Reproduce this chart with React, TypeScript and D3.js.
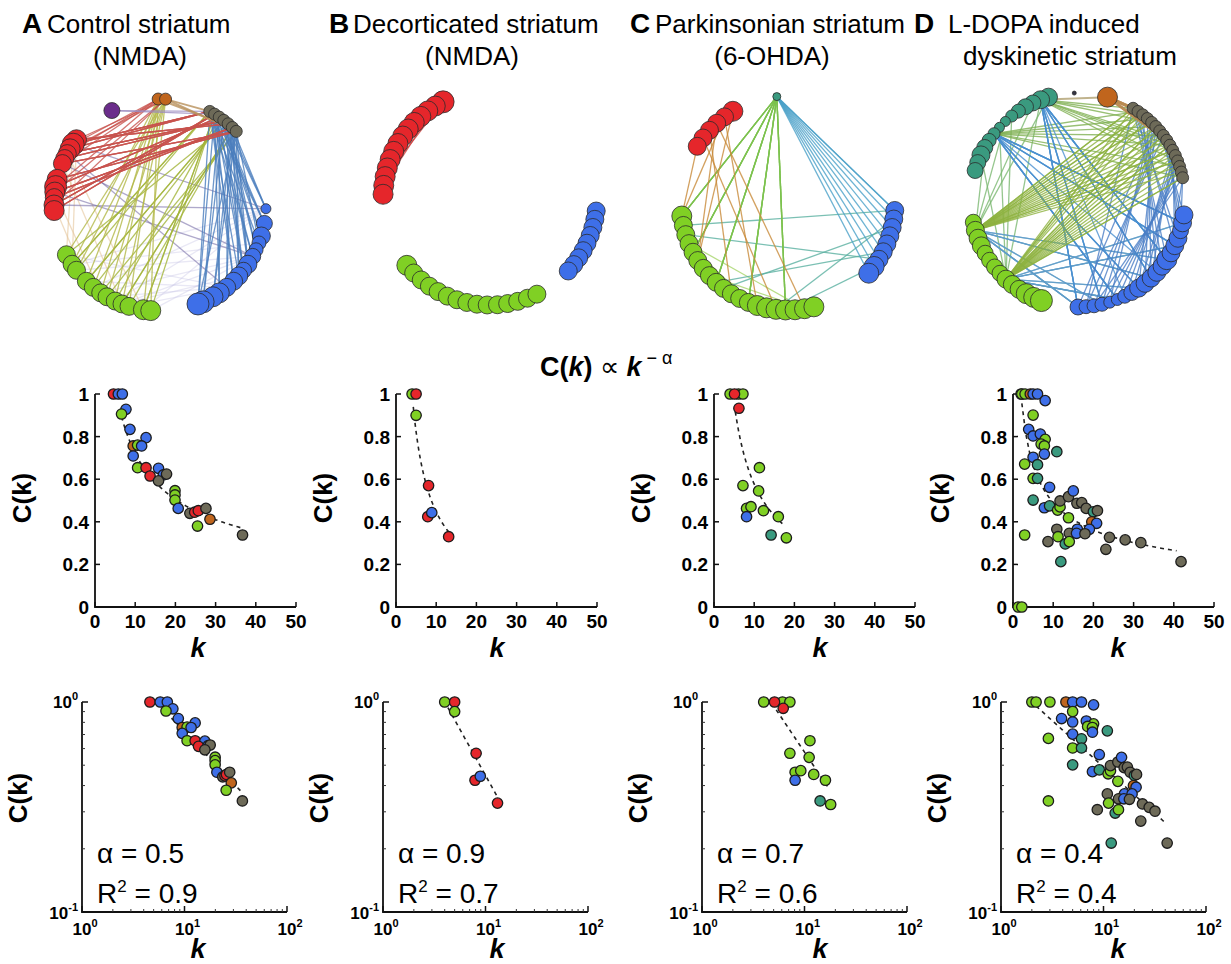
import React from 'react';
import * as d3 from 'd3';

const FONT = "Arial, 'Liberation Sans', Helvetica, sans-serif";

const COL: Record<string, string> = {
  red: '#e5262b', blue: '#3e6fe8', green: '#80d024', gray: '#6d6a58',
  brown: '#c0651d', teal: '#3a9a7f', purple: '#6b2d8b', dark: '#333344',
};

// ---------- scatter data: [k, C(k), group] ----------
type Pt = [number, number, string];
const ptsA: Pt[] = [
  [4.6, 1, 'red'], [5.8, 1, 'blue'], [6.8, 1, 'blue'], [7.7, 0.928, 'blue'], [6.6, 0.906, 'green'],
  [8.7, 0.834, 'blue'], [12.7, 0.795, 'blue'], [9.5, 0.756, 'brown'], [10.6, 0.76, 'green'], [11.6, 0.756, 'blue'],
  [9.5, 0.709, 'blue'], [10.6, 0.654, 'green'], [12.7, 0.654, 'red'], [15.8, 0.651, 'blue'], [13.7, 0.615, 'red'],
  [17.0, 0.62, 'blue'], [17.8, 0.624, 'gray'], [15.8, 0.592, 'gray'], [19.9, 0.546, 'green'], [19.9, 0.526, 'green'],
  [19.9, 0.502, 'green'], [20.7, 0.463, 'blue'], [23.6, 0.44, 'gray'], [24.8, 0.445, 'red'], [25.7, 0.452, 'red'],
  [27.6, 0.463, 'gray'], [28.6, 0.412, 'brown'], [25.5, 0.38, 'green'], [36.7, 0.338, 'gray'],
];
const ptsB: Pt[] = [
  [4, 1, 'green'], [5, 1, 'red'], [5, 0.9, 'green'], [8.1, 0.57, 'red'], [7.9, 0.424, 'red'],
  [8.9, 0.443, 'blue'], [13.1, 0.33, 'red'],
];
const ptsC: Pt[] = [
  [4.0, 1, 'green'], [6.1, 1, 'green'], [7.2, 1, 'green'], [5.1, 1, 'red'], [6.2, 0.933, 'red'],
  [11.3, 0.654, 'green'], [7.2, 0.57, 'green'], [11.1, 0.545, 'green'], [8.1, 0.463, 'green'], [9.2, 0.471, 'green'],
  [8.1, 0.424, 'blue'], [12.3, 0.452, 'green'], [16.0, 0.424, 'green'], [14.2, 0.338, 'teal'], [18.0, 0.325, 'green'],
];
const ptsD: Pt[] = [
  [2.0, 1, 'green'], [2.2, 1, 'green'], [3.0, 1, 'green'], [4.3, 1, 'brown'], [5.0, 1, 'blue'], [6.1, 1, 'blue'],
  [8.0, 0.969, 'blue'], [5.0, 0.901, 'green'], [3.9, 0.834, 'blue'], [5.0, 0.803, 'blue'], [6.8, 0.812, 'blue'],
  [8.0, 0.787, 'green'], [7.0, 0.765, 'green'], [7.8, 0.756, 'green'], [7.8, 0.718, 'blue'], [10.9, 0.729, 'teal'],
  [5.0, 0.703, 'blue'], [2.9, 0.671, 'green'], [6.1, 0.668, 'teal'], [5.0, 0.604, 'green'], [6.1, 0.604, 'teal'],
  [9.1, 0.562, 'blue'], [5.0, 0.502, 'teal'], [7.8, 0.466, 'blue'], [9.1, 0.475, 'teal'], [11.1, 0.455, 'green'],
  [11.7, 0.47, 'green'], [11.7, 0.498, 'gray'], [13.8, 0.518, 'gray'], [15.0, 0.545, 'blue'], [15.9, 0.487, 'gray'],
  [17.1, 0.49, 'gray'], [18.2, 0.463, 'gray'], [20.0, 0.447, 'teal'], [21.0, 0.452, 'gray'], [13.8, 0.419, 'green'],
  [19.6, 0.40, 'brown'], [20.8, 0.393, 'blue'], [10.9, 0.365, 'gray'], [16.0, 0.365, 'blue'], [19.0, 0.365, 'blue'],
  [14.0, 0.346, 'gray'], [15.8, 0.346, 'blue'], [17.9, 0.344, 'gray'], [11.2, 0.33, 'green'], [8.7, 0.307, 'gray'],
  [13.0, 0.296, 'teal'], [14.0, 0.307, 'green'], [24.0, 0.327, 'gray'], [27.9, 0.315, 'gray'], [31.8, 0.302, 'gray'],
  [23.1, 0.271, 'gray'], [11.9, 0.213, 'teal'], [41.8, 0.213, 'gray'], [2.9, 0.338, 'green'], [1.3, 0, 'green'],
  [2.2, 0, 'green'],
];

// power-law fits C = a * k^-alpha, drawn between k0 and k1
const fitA = { a: 2.356, alpha: 0.514, k0: 6.6, k1: 37 };
const fitB = { a: 3.39, alpha: 0.88, k0: 4.3, k1: 13.1 };
const fitC = { a: 3.10, alpha: 0.73, k0: 5.3, k1: 17.4 };
const fitD = { a: 1.354, alpha: 0.441, k0: 2.2, k1: 40.7 };

const alphaLabels = ['0.5', '0.9', '0.7', '0.4'];
const r2Labels = ['0.9', '0.7', '0.6', '0.4'];
const linXTicks = [0, 10, 20, 30, 40, 50];
const linYTicks = [0, 0.2, 0.4, 0.6, 0.8, 1];

// ---------- network data ----------
const span = (a: number, b: number, n: number) => d3.range(n).map(i => a + (b - a) * i / (n - 1));
type Cluster = { id: string; angles: number[]; sizes: number[] };
type EdgeGroup = { a: string; b: string; n: number; color: string; o?: number; w?: number };

const netA: Cluster[] = [
  { id: 'red', angles: [308, 305, 302, 299, 296, 293, 284, 280, 277, 274, 270, 267], sizes: [10, 11, 10, 9, 9, 9, 10, 11, 10, 9, 10, 10] },
  { id: 'green', angles: [242, 236, 232, 224, 219, 214, 210, 205, 201, 197, 189, 185], sizes: [9, 9, 9, 9, 9, 9, 9, 9, 9, 9, 10, 10] },
  { id: 'blue', angles: [92, 100, 107, 111, 115, 119, 124, 128, 132, 136, 141, 146, 150, 156, 159], sizes: [5, 8, 9, 7, 7, 8, 9, 8, 9, 9, 9, 10, 10, 11, 11] },
  { id: 'gray', angles: [28, 31, 34, 37, 40, 43, 46], sizes: [6, 6, 6, 6, 6, 6, 6] },
  { id: 'brown', angles: [359, 3], sizes: [6, 6] },
  { id: 'purple', angles: [333], sizes: [8] },
];
const edgesA: EdgeGroup[] = [
  { a: 'green', b: 'blue', n: 14, color: '#c9c6e6', o: 0.4 },
  { a: 'blue', b: 'blue', n: 6, color: '#c9c6e6', o: 0.4 },
  { a: 'red', b: 'green', n: 6, color: '#e4c49a', o: 0.6 },
  { a: 'red', b: 'blue', n: 5, color: '#7a70a8', o: 0.6 },
  { a: 'green', b: 'gray', n: 16, color: '#a3b43a' },
  { a: 'green', b: 'brown', n: 12, color: '#b3b847' },
  { a: 'blue', b: 'gray', n: 36, color: '#4a7dbd' },
  { a: 'red', b: 'gray', n: 40, color: '#c8524e' },
  { a: 'red', b: 'brown', n: 8, color: '#c8524e' },
  { a: 'purple', b: 'gray', n: 2, color: '#9c8cc0' },
  { a: 'brown', b: 'gray', n: 3, color: '#b8905a', w: 2 },
];

const netB: Cluster[] = [
  { id: 'red', angles: span(334, 272, 14), sizes: [11, 10, 10, 10, 10, 10, 10, 10, 10, 10, 10, 10, 10, 10] },
  { id: 'blue', angles: span(97, 133, 9), sizes: [9, 9, 9, 9, 9, 9, 9, 9, 9] },
  { id: 'green', angles: span(231, 154, 15), sizes: [10, 9, 9, 9, 9, 9, 9, 9, 9, 9, 9, 9, 9, 9, 9] },
];
const edgesB: EdgeGroup[] = [
  { a: 'red', b: 'red', n: 22, color: '#d0403f' },
  { a: 'green', b: 'green', n: 14, color: '#8fcf3f' },
];

const netC: Cluster[] = [
  { id: 'teal', angles: [354], sizes: [4] },
  { id: 'red', angles: span(329, 302, 6), sizes: [10, 9, 9, 9, 9, 9] },
  { id: 'green', angles: span(263, 166, 20), sizes: [10, 9, 9, 9, 9, 9, 9, 9, 9, 9, 9, 9, 9, 10, 10, 10, 10, 10, 10, 10] },
  { id: 'blue', angles: span(94, 131, 9), sizes: [9, 9, 9, 9, 9, 9, 9, 10, 10] },
];
const edgesC: EdgeGroup[] = [
  { a: 'green', b: 'green', n: 10, color: '#a6d46a' },
  { a: 'green', b: 'blue', n: 6, color: '#5ab0a0' },
  { a: 'teal', b: 'green', n: 20, color: '#7cc24e' },
  { a: 'teal', b: 'blue', n: 10, color: '#4aa0c8' },
  { a: 'red', b: 'green', n: 8, color: '#c88a38' },
];

const netD: Cluster[] = [
  { id: 'teal', angles: span(344, 286, 14), sizes: [9, 9, 8, 8, 7, 6, 5, 5, 6, 7, 8, 9, 8, 8] },
  { id: 'green', angles: span(258, 200, 14), sizes: [8, 9, 9, 9, 8, 8, 8, 8, 9, 9, 9, 10, 10, 11] },
  { id: 'blue', angles: span(180, 98, 20), sizes: [8, 7, 7, 7, 6, 6, 7, 8, 9, 9, 9, 9, 9, 10, 9, 9, 9, 8, 9, 9] },
  { id: 'gray', angles: span(31, 78, 16), sizes: [6, 6, 6, 6, 6, 6, 6, 6, 6, 6, 6, 6, 6, 6, 6, 6] },
  { id: 'brown', angles: [16], sizes: [10] },
  { id: 'dark', angles: [358], sizes: [2] },
];
const edgesD: EdgeGroup[] = [
  { a: 'green', b: 'teal', n: 8, color: '#7ab870' },
  { a: 'teal', b: 'gray', n: 15, color: '#7fb052' },
  { a: 'green', b: 'blue', n: 22, color: '#5e9cc8' },
  { a: 'teal', b: 'blue', n: 30, color: '#4a90cf' },
  { a: 'blue', b: 'gray', n: 30, color: '#4a7dc5' },
  { a: 'green', b: 'gray', n: 40, color: '#8db23e' },
  { a: 'brown', b: 'gray', n: 5, color: '#b88a50', w: 3 },
  { a: 'teal', b: 'brown', n: 1, color: '#b0a070', w: 2 },
];

const networks = [
  { cx: 160, cy: 205, R: 106, clusters: netA, edges: edgesA },
  { cx: 490, cy: 198, R: 107, clusters: netB, edges: edgesB },
  { cx: 788, cy: 203, R: 107, clusters: netC, edges: edgesC },
  { cx: 1078, cy: 200, R: 107, clusters: netD, edges: edgesD },
];

// ---------- layout ----------
const LIN_X0 = [95, 396, 714, 1013];
const LOG_X0 = [82, 383, 702, 1001];
const K_X = [198, 497, 820, 1118];
const LIN_W = 201, LIN_TOP = 394, LIN_BOT = 607;
const LOG_W = 205, LOG_TOP = 702, LOG_BOT = 912;

const panels = [
  { pts: ptsA, fit: fitA },
  { pts: ptsB, fit: fitB },
  { pts: ptsC, fit: fitC },
  { pts: ptsD, fit: fitD },
];

function Network({ cx, cy, R, clusters, edges }: any) {
  const pos: Record<string, { x: number; y: number; r: number }[]> = {};
  clusters.forEach((c: Cluster) => {
    pos[c.id] = c.angles.map((a, i) => {
      const t = (a * Math.PI) / 180;
      return { x: cx + R * Math.sin(t), y: cy - R * Math.cos(t), r: c.sizes[i] };
    });
  });
  const lines: any[] = [];
  edges.forEach((e: EdgeGroup, gi: number) => {
    const A = pos[e.a], B = pos[e.b];
    for (let i = 0; i < e.n; i++) {
      let ia: number, ib: number;
      if (e.a === e.b) {
        ia = (i * 3) % A.length;
        ib = (ia + 3 + (i % 5) * 2) % A.length;
        if (ia === ib) continue;
      } else {
        ia = (i * 7 + 1) % A.length;
        ib = (i * 5 + Math.floor(i / A.length) * 3) % B.length;
      }
      lines.push(
        <line key={`${gi}-${i}`} x1={A[ia].x} y1={A[ia].y} x2={B[ib].x} y2={B[ib].y}
          stroke={e.color} strokeOpacity={e.o ?? 0.8} strokeWidth={e.w ?? 1.3} />
      );
    }
  });
  return (
    <g>
      {lines}
      {clusters.map((c: Cluster) =>
        pos[c.id].map((p, i) => (
          <circle key={c.id + i} cx={p.x} cy={p.y} r={p.r} fill={COL[c.id]} stroke="#2b2b2b" strokeWidth={0.8} />
        ))
      )}
    </g>
  );
}

function Marker({ x, y, g }: { x: number; y: number; g: string }) {
  return <circle cx={x} cy={y} r={5.2} fill={COL[g]} stroke="#1c1c1c" strokeWidth={1.3} />;
}

function LinPlot({ i }: { i: number }) {
  const { pts, fit } = panels[i];
  const x0 = LIN_X0[i];
  const x = d3.scaleLinear().domain([0, 50]).range([x0, x0 + LIN_W]);
  const y = d3.scaleLinear().domain([0, 1]).range([LIN_BOT, LIN_TOP]);
  const fk = d3.range(0, 41).map(j => fit.k0 + (fit.k1 - fit.k0) * j / 40);
  const line = d3.line<number>().x(k => x(k)).y(k => y(fit.a * Math.pow(k, -fit.alpha)));
  return (
    <g fontFamily={FONT}>
      <path d={line(fk) || ''} fill="none" stroke="#222" strokeWidth={1.6} strokeDasharray="4,4" />
      <path d={`M${x0},${LIN_TOP}V${LIN_BOT}H${x0 + LIN_W}`} fill="none" stroke="#111" strokeWidth={1.8} />
      {linYTicks.map(t => (
        <g key={'y' + t}>
          <line x1={x0} x2={x0 + 5} y1={y(t)} y2={y(t)} stroke="#111" strokeWidth={1.5} />
          <text x={x0 - 6} y={y(t) + 7} textAnchor="end" fontSize={19} fontWeight="bold">{t === 0 || t === 1 ? String(t) : t.toFixed(1)}</text>
        </g>
      ))}
      {linXTicks.map(t => (
        <g key={'x' + t}>
          <line x1={x(t)} x2={x(t)} y1={LIN_BOT} y2={LIN_BOT - 5} stroke="#111" strokeWidth={1.5} />
          <text x={x(t)} y={LIN_BOT + 21} textAnchor="middle" fontSize={19} fontWeight="bold">{t}</text>
        </g>
      ))}
      {pts.map((p, j) => <Marker key={j} x={x(p[0])} y={y(p[1])} g={p[2]} />)}
      <text x={K_X[i]} y={657} textAnchor="middle" fontSize={27} fontWeight="bold" fontStyle="italic">k</text>
      <text transform={`translate(${x0 - 64},${498}) rotate(-90)`} textAnchor="middle" fontSize={26} fontWeight="bold">C(k)</text>
    </g>
  );
}

function Pow({ x, y, e, anchor }: { x: number; y: number; e: string; anchor: string }) {
  return (
    <text x={x} y={y} textAnchor={anchor} fontSize={17} fontWeight="bold">
      10<tspan fontSize={11} dy={-8}>{e}</tspan>
    </text>
  );
}

function LogPlot({ i }: { i: number }) {
  const { pts, fit } = panels[i];
  const x0 = LOG_X0[i];
  const x = d3.scaleLog().domain([1, 100]).range([x0, x0 + LOG_W]);
  const y = d3.scaleLog().domain([0.1, 1]).range([LOG_BOT, LOG_TOP]);
  const fk = d3.range(0, 41).map(j => fit.k0 * Math.pow(fit.k1 / fit.k0, j / 40));
  const line = d3.line<number>().x(k => x(k)).y(k => y(fit.a * Math.pow(k, -fit.alpha)));
  const minorX = [1, 10].flatMap(d => d3.range(2, 10).map(m => m * d));
  const minorY = d3.range(2, 10).map(m => m / 10);
  return (
    <g fontFamily={FONT}>
      <path d={line(fk) || ''} fill="none" stroke="#222" strokeWidth={1.6} strokeDasharray="4,4" />
      <path d={`M${x0},${LOG_TOP}V${LOG_BOT}H${x0 + LOG_W}`} fill="none" stroke="#111" strokeWidth={1.8} />
      {[0.1, 1].map(t => <line key={'Y' + t} x1={x0} x2={x0 + 6} y1={y(t)} y2={y(t)} stroke="#111" strokeWidth={1.5} />)}
      {minorY.map(t => <line key={'y' + t} x1={x0} x2={x0 + 3} y1={y(t)} y2={y(t)} stroke="#333" strokeWidth={1} />)}
      {[1, 10, 100].map(t => <line key={'X' + t} x1={x(t)} x2={x(t)} y1={LOG_BOT} y2={LOG_BOT - 6} stroke="#111" strokeWidth={1.5} />)}
      {minorX.map(t => <line key={'x' + t} x1={x(t)} x2={x(t)} y1={LOG_BOT} y2={LOG_BOT - 3} stroke="#333" strokeWidth={1} />)}
      <Pow x={x0 - 4} y={LOG_TOP + 6} e="0" anchor="end" />
      <Pow x={x0 - 4} y={LOG_BOT + 7} e="-1" anchor="end" />
      <Pow x={x(1) + 3} y={LOG_BOT + 23} e="0" anchor="middle" />
      <Pow x={x(10) + 3} y={LOG_BOT + 23} e="1" anchor="middle" />
      <Pow x={x(100) + 3} y={LOG_BOT + 23} e="2" anchor="middle" />
      {pts.filter(p => p[1] > 0).map((p, j) => <Marker key={j} x={x(p[0])} y={y(p[1])} g={p[2]} />)}
      <text x={x0 + 15} y={863} fontSize={28}>α = {alphaLabels[i]}</text>
      <text x={x0 + 15} y={903} fontSize={28}>R<tspan fontSize={17} dy={-11}>2</tspan><tspan dy={11}> = {r2Labels[i]}</tspan></text>
      <text x={K_X[i]} y={958} textAnchor="middle" fontSize={27} fontWeight="bold" fontStyle="italic">k</text>
      <text transform={`translate(${x0 - 55},${798}) rotate(-90)`} textAnchor="middle" fontSize={26} fontWeight="bold">C(k)</text>
    </g>
  );
}

const headers = [
  { letter: 'A', lx: 22, tx: 47, line1: 'Control striatum', line2: '(NMDA)', l2x: 140 },
  { letter: 'B', lx: 329, tx: 353, line1: 'Decorticated striatum', line2: '(NMDA)', l2x: 472 },
  { letter: 'C', lx: 630, tx: 655, line1: 'Parkinsonian striatum', line2: '(6-OHDA)', l2x: 772 },
  { letter: 'D', lx: 914, tx: 948, line1: 'L-DOPA induced', line2: 'dyskinetic striatum', l2x: 1070 },
];

export default function App() {
  return (
    <svg width={1231} height={964} style={{ position: 'absolute', left: 0, top: 0, background: '#fff' }}>
      <rect width={1231} height={964} fill="#fff" />
      {headers.map(h => (
        <g key={h.letter} fontFamily={FONT}>
          <text x={h.lx} y={33} fontSize={28} fontWeight="bold">{h.letter}</text>
          <text x={h.tx} y={33} fontSize={26}>{h.line1}</text>
          <text x={h.l2x} y={65} fontSize={26} textAnchor="middle">{h.line2}</text>
        </g>
      ))}
      {networks.map((n, i) => <Network key={i} {...n} />)}
      <text x={540} y={376} fontFamily={FONT} fontSize={27} fontWeight="bold">
        C(<tspan fontStyle="italic">k</tspan>)<tspan fontWeight="normal"> ∝ </tspan><tspan fontStyle="italic">k</tspan>
        <tspan fontSize={18} fontWeight="normal" dy={-12}> − α</tspan>
      </text>
      {[0, 1, 2, 3].map(i => <LinPlot key={'l' + i} i={i} />)}
      {[0, 1, 2, 3].map(i => <LogPlot key={'g' + i} i={i} />)}
    </svg>
  );
}
